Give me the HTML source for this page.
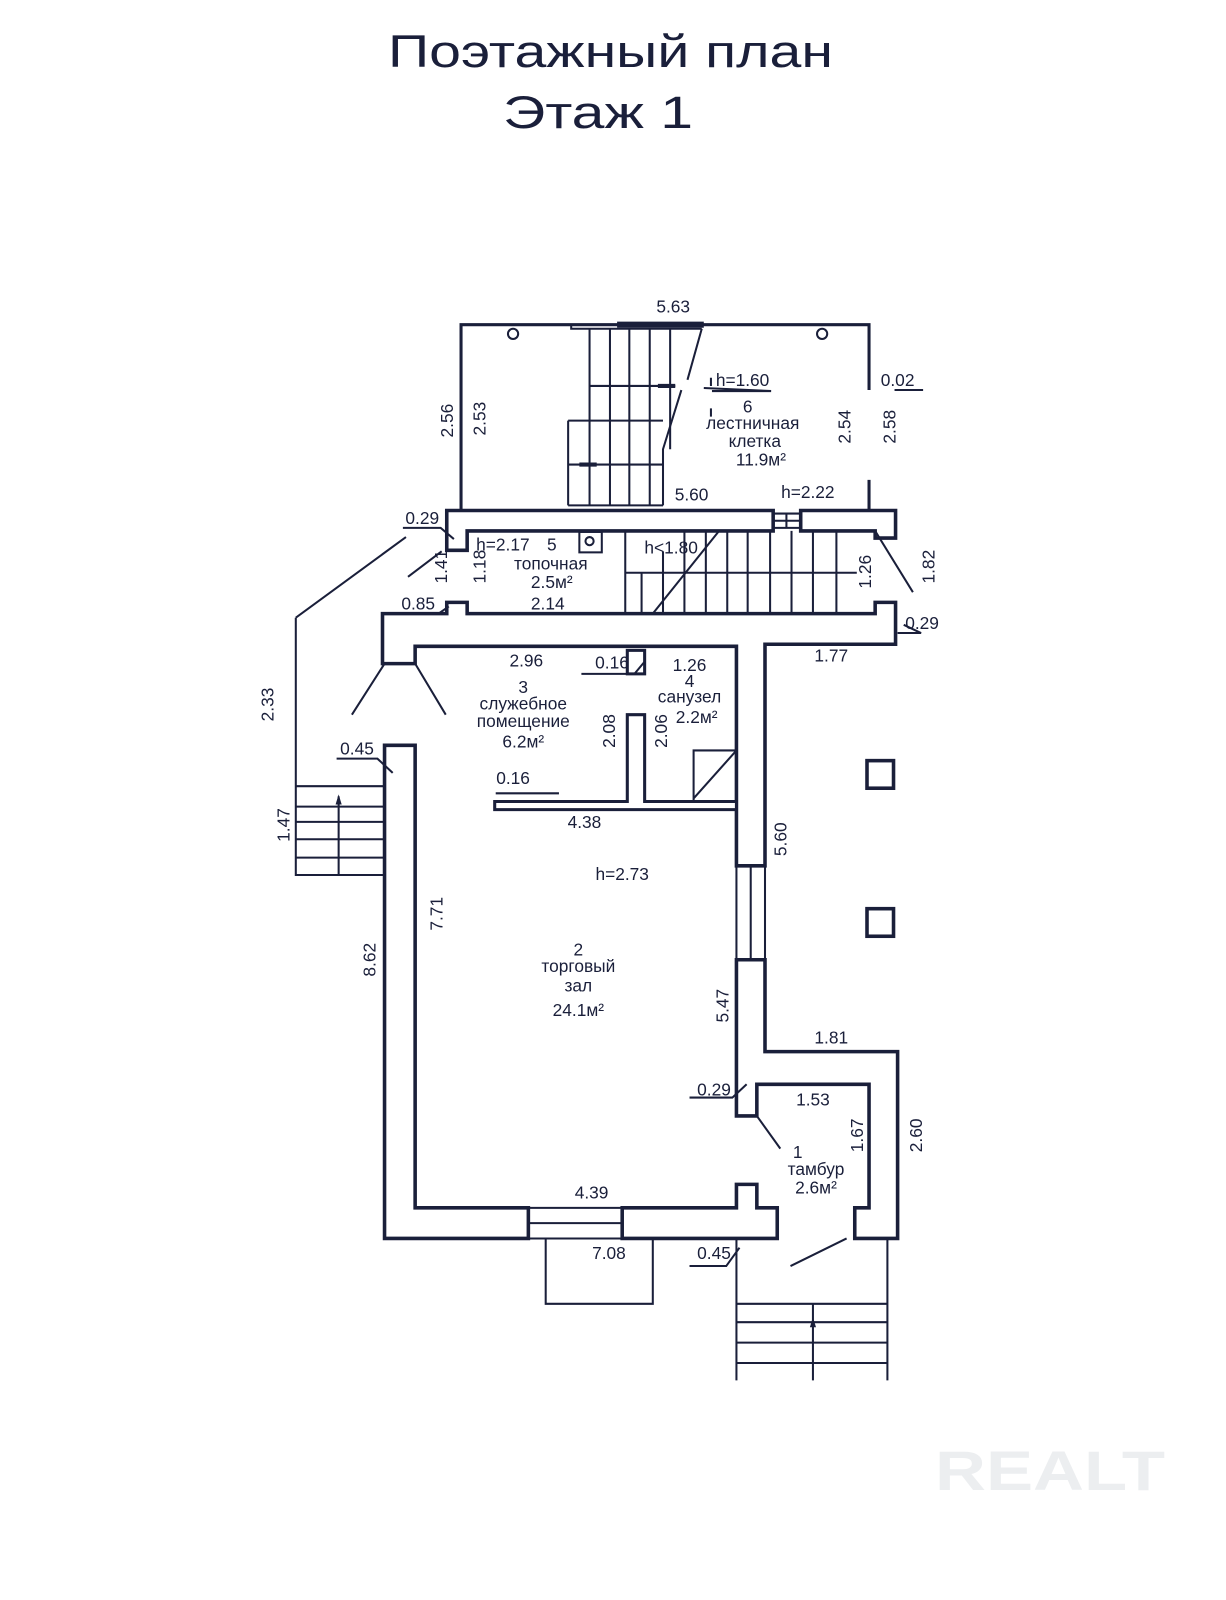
<!DOCTYPE html>
<html><head><meta charset="utf-8"><style>
html,body{margin:0;padding:0;background:#fff;}
svg{display:block;}
text{font-family:"Liberation Sans Narrow","Liberation Sans",sans-serif;fill:#1a1f3a;}
</style></head><body>
<svg width="1226" height="1600" viewBox="0 0 1226 1600" xmlns="http://www.w3.org/2000/svg">
<rect width="1226" height="1600" fill="#fff"/>
<text x="388" y="67" font-size="45" textLength="445" lengthAdjust="spacingAndGlyphs">Поэтажный план</text>
<text x="503" y="128" font-size="45" textLength="190" lengthAdjust="spacingAndGlyphs">Этаж 1</text>
<text x="935" y="1490" font-size="56" font-weight="bold" fill="#eceef0" style="fill:#eceef0" textLength="230" lengthAdjust="spacingAndGlyphs">REALT</text>

<g transform="scale(1.02,1.021)" fill="none" stroke="#1a1f3a" stroke-linejoin="miter">
<!-- room 6 thin walls -->
<g stroke-width="3">
<path d="M452,500 V318 H852 V382"/>
<path d="M852,470 V500"/>
</g>
<path d="M605,318 H690" stroke-width="6"/>
<circle cx="503" cy="327" r="5" stroke-width="2"/>
<circle cx="806" cy="327" r="5" stroke-width="2"/>
<!-- stair room 6 -->
<g stroke-width="2">
<path d="M560,318 V322 H688"/>
<path d="M578,322 V495 M598,322 V495 M617,322 V495 M637,322 V495 M657,322 V440"/>
<path d="M578,378 H662 M557,412 H650 M557,455 H650 M557,412 V495 M557,495 H650"/>
<path d="M688,322 L674,372 M668,382 L650,440 V495"/>
<path d="M697,370 V378 M697,400 V408"/>
</g>
<path d="M645,378 L662,378" stroke-width="4"/>
<path d="M568,455 L585,455" stroke-width="4"/>
<!-- walls thick -->
<g stroke-width="3.5" fill="#fff">
<path d="M438,500 H758 V520 H458 V539 H438 Z"/>
<path d="M785,500 H878 V527 H858 V520 H785 Z"/>
<path d="M375,601 H438 V590 H458 V601 H858 V590 H878 V631 H750 V848 H722 V633 H407 V650 H375 Z"/>
<path d="M722,940 H750 V1030 H880 V1213 H838 V1183 H852 V1062 H742 V1093 H722 Z"/>
<path d="M377,730 H407 V1183 H518 V1213 H377 Z"/>
<path d="M610,1183 H722 V1160 H742 V1183 H762 V1213 H610 Z"/>
</g>
<!-- windows -->
<g stroke-width="2">
<path d="M758,503 H785 M758,510 H785 M758,517 H785 M771,503 V517"/>
<path d="M722,848 V940 M736,848 V940 M750,848 V940"/>
<path d="M518,1183 H610 M518,1198 H610 M518,1213 H610"/>
</g>
<!-- partitions -->
<g stroke-width="3" fill="#fff">
<path d="M485,785 H615 V700 H632 V785 H722 V793 H485 Z"/>
<path d="M615,637 H632 V660 H615 Z"/>
</g>
<g stroke-width="2">
<path d="M680,785 V735 H722 M680,782 L722,735"/>
<!-- stair room5 -->
<path d="M613,520 V601 M629,561 V601 M650,540 V601 M671,520 V601 M692,520 V601 M713,520 V601 M733,520 V601 M755,520 V601 M776,520 V601 M797,520 V601 M820,520 V601"/>
<path d="M613,561 H840"/>
<path d="M640,601 L705,520"/>
<rect x="568" y="521" width="22" height="20"/>
<circle cx="578" cy="530" r="4"/>
<!-- left stair -->
<path d="M290,605 L398,526 M290,605 V857 H377 M290,770 H377 M290,790 H377 M290,805 H377 M290,822 H377 M290,840 H377 M332,857 V780"/>
<!-- doors -->
<path d="M377,650 L345,700 M407,650 L437,700 M433,540 L400,565 M742,1093 L765,1125 M830,1213 L775,1240 M858,520 L895,580"/>
<!-- bottom landing & steps -->
<path d="M535,1213 V1277 H640 V1213"/>
<path d="M722,1213 V1352 M870,1213 V1352 M722,1277 H870 M722,1295 H870 M722,1315 H870 M722,1335 H870 M797,1277 V1352"/>
<!-- leaders -->
<path d="M395,517 H432 L445,528 M395,601 H430 L440,594 M330,743 H370 L385,757 M570,660 H622 L632,648 M486,777 H548 M676,1075 H718 L732,1062 M676,1240 H712 L725,1222 M877,382 H905 M880,620 H903 L886,612 M698,383 H756 L690,380"/>
</g>
<path d="M332,778 l-3,10 h6 z M797,1290 l-3,10 h6 z" fill="#1a1f3a" stroke="none"/>
<rect x="850" y="745" width="26" height="27" stroke-width="3.5"/>
<rect x="850" y="890" width="26" height="27" stroke-width="3.5"/>

<g font-size="17" stroke="none" text-anchor="middle">
<text x="660" y="306">5.63</text>
<text x="728" y="378">h=1.60</text>
<text x="880" y="378">0.02</text>
<text x="733" y="404">6</text>
<text x="738" y="420">лестничная</text>
<text x="740" y="438">клетка</text>
<text x="746" y="456">11.9м²</text>
<text x="678" y="490">5.60</text>
<text x="792" y="488">h=2.22</text>
<text x="414" y="513">0.29</text>
<text x="493" y="539">h=2.17</text>
<text x="541" y="539">5</text>
<text x="540" y="558">топочная</text>
<text x="541" y="576">2.5м²</text>
<text x="537" y="597">2.14</text>
<text x="410" y="597">0.85</text>
<text x="658" y="542">h&lt;1.80</text>
<text x="904" y="616">0.29</text>
<text x="815" y="648">1.77</text>
<text x="516" y="653">2.96</text>
<text x="600" y="655">0.16</text>
<text x="676" y="657">1.26</text>
<text x="513" y="679">3</text>
<text x="513" y="695">служебное</text>
<text x="513" y="712">помещение</text>
<text x="513" y="732">6.2м²</text>
<text x="676" y="673">4</text>
<text x="676" y="688">санузел</text>
<text x="683" y="708">2.2м²</text>
<text x="350" y="739">0.45</text>
<text x="503" y="768">0.16</text>
<text x="573" y="811">4.38</text>
<text x="610" y="862">h=2.73</text>
<text x="567" y="936">2</text>
<text x="567" y="952">торговый</text>
<text x="567" y="971">зал</text>
<text x="567" y="995">24.1м²</text>
<text x="815" y="1022">1.81</text>
<text x="700" y="1073">0.29</text>
<text x="797" y="1083">1.53</text>
<text x="782" y="1134">1</text>
<text x="800" y="1151">тамбур</text>
<text x="800" y="1169">2.6м²</text>
<text x="580" y="1174">4.39</text>
<text x="597" y="1233">7.08</text>
<text x="700" y="1233">0.45</text>
</g>
<g font-size="17" stroke="none" text-anchor="middle">
<text transform="translate(444,412) rotate(-90)">2.56</text>
<text transform="translate(476,410) rotate(-90)">2.53</text>
<text transform="translate(834,418) rotate(-90)">2.54</text>
<text transform="translate(878,418) rotate(-90)">2.58</text>
<text transform="translate(438,555) rotate(-90)">1.41</text>
<text transform="translate(476,555) rotate(-90)">1.18</text>
<text transform="translate(854,560) rotate(-90)">1.26</text>
<text transform="translate(916,555) rotate(-90)">1.82</text>
<text transform="translate(603,716) rotate(-90)">2.08</text>
<text transform="translate(654,716) rotate(-90)">2.06</text>
<text transform="translate(268,690) rotate(-90)">2.33</text>
<text transform="translate(284,808) rotate(-90)">1.47</text>
<text transform="translate(771,822) rotate(-90)">5.60</text>
<text transform="translate(434,895) rotate(-90)">7.71</text>
<text transform="translate(368,940) rotate(-90)">8.62</text>
<text transform="translate(714,985) rotate(-90)">5.47</text>
<text transform="translate(846,1112) rotate(-90)">1.67</text>
<text transform="translate(904,1112) rotate(-90)">2.60</text>
</g>
</g>
</svg>
</body></html>
